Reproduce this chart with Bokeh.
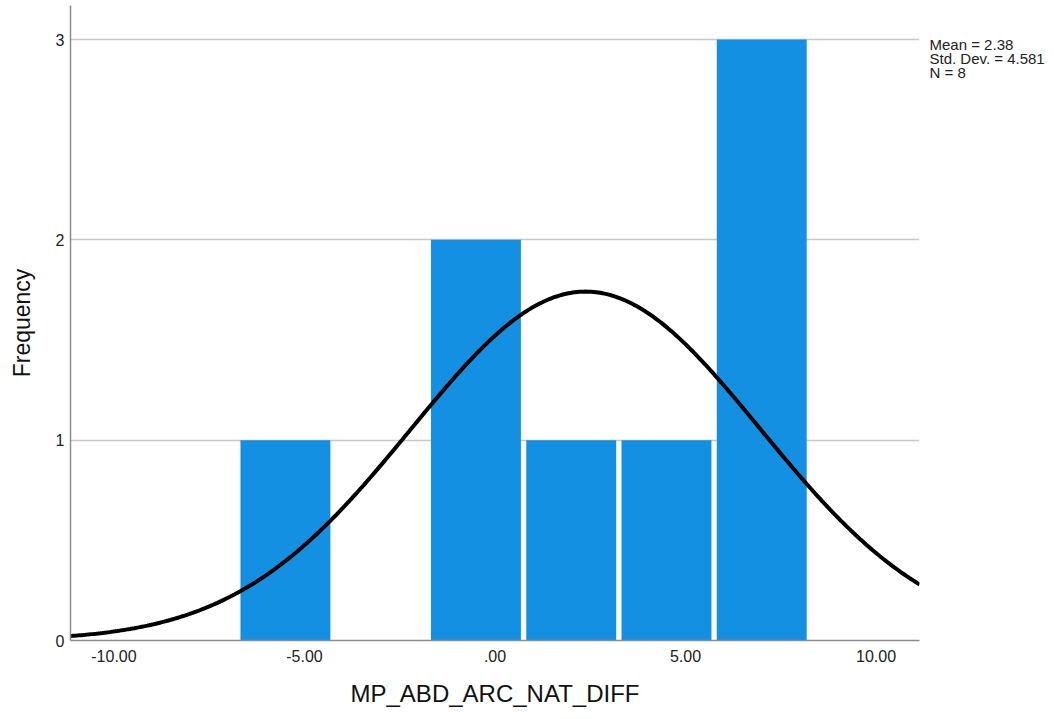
import numpy as np
from bokeh.plotting import figure
from bokeh.models import Range1d, FixedTicker, LinearAxis
from bokeh.embed import file_html
from bokeh.resources import INLINE

# Histogram of MP_ABD_ARC_NAT_DIFF (bin width 2.5)
bin_centers = [-5.5, -3.0, -0.5, 2.0, 4.5, 7.0]
frequencies = [1, 0, 2, 1, 1, 3]
bin_width = 2.5

# Summary statistics
mean = 2.38
std_dev = 4.581
n = 8

x_ticks = [-10, -5, 0, 5, 10]
x_tick_labels = ["-10.00", "-5.00", ".00", "5.00", "10.00"]
y_ticks = [0, 1, 2, 3]

FONT = "Liberation Sans"
BAR_COLOR = "#1490E3"

X_LO, X_HI = -11.14, 11.14

p = figure(width=1054, height=719, output_backend="svg", toolbar_location=None,
           x_range=Range1d(X_LO, X_HI), y_range=Range1d(0, 3.17),
           min_border_left=70, min_border_right=135,
           min_border_top=5, min_border_bottom=79)
p.outline_line_color = None
p.background_fill_color = "white"
p.border_fill_color = "white"

# Bars (slightly narrower than the bin, leaving a white gap)
p.vbar(x=bin_centers, top=frequencies, width=bin_width * 0.944, bottom=0,
       fill_color=BAR_COLOR, line_color=None)

# Fitted normal curve scaled to counts
xs = np.linspace(X_LO, X_HI, 400)
ys = n * bin_width * np.exp(-0.5 * ((xs - mean) / std_dev) ** 2) / (std_dev * np.sqrt(2 * np.pi))
p.line(xs, ys, line_color="black", line_width=4)

# Axes
p.xaxis.ticker = FixedTicker(ticks=x_ticks)
p.xaxis.major_label_overrides = {t: s for t, s in zip(x_ticks, x_tick_labels)}
p.yaxis.ticker = FixedTicker(ticks=y_ticks)

for ax in (p.xaxis[0], p.yaxis[0]):
    ax.axis_line_color = "#8c8c8c"
    ax.axis_line_width = 1.5
    ax.major_tick_line_color = None
    ax.minor_tick_line_color = None
    ax.major_label_text_font = FONT
    ax.major_label_text_font_size = "16px"
    ax.major_label_text_color = "#222222"
    ax.axis_label_text_font = FONT
    ax.axis_label_text_font_style = "normal"
    ax.axis_label_text_color = "#111111"

p.xaxis.axis_label = "MP_ABD_ARC_NAT_DIFF"
p.xaxis.axis_label_text_font_size = "24px"
p.xaxis.major_label_standoff = 3
p.xaxis.axis_label_standoff = 15

p.yaxis.axis_label = "Frequency"
p.yaxis.axis_label_text_font_size = "23px"
p.yaxis.major_label_standoff = 0
p.yaxis.axis_label_standoff = 18

p.xgrid.grid_line_color = None
p.ygrid.grid_line_color = "#c8c8c8"
p.ygrid.grid_line_width = 1.5

# Statistics box, shown as labels of a bare axis on the right
stat_lines = [f"Mean = {mean:.2f}", f"Std. Dev. = {std_dev:.3f}", f"N = {n}"]
stat_pos = [2.976, 2.906, 2.836]
stats_axis = LinearAxis(ticker=FixedTicker(ticks=stat_pos),
                        major_label_overrides={t: s for t, s in zip(stat_pos, stat_lines)},
                        axis_line_color=None, major_tick_line_color=None,
                        minor_tick_line_color=None,
                        major_label_standoff=4,
                        major_label_text_font=FONT,
                        major_label_text_font_size="15px",
                        major_label_text_color="#222222")
p.add_layout(stats_axis, "right")

open("out.html", "w").write(file_html(p, INLINE))
